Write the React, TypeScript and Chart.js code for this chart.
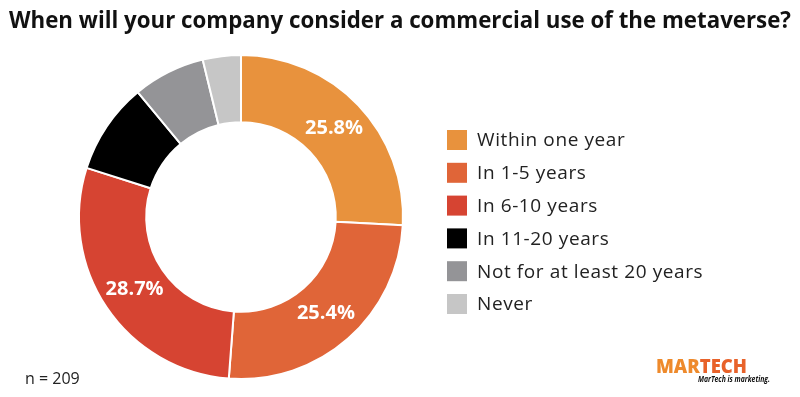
import React, { useEffect, useRef } from "react";
import { Chart, registerables } from "chart.js";

Chart.register(...registerables);

const titleText = "When will your company consider a commercial use of the metaverse?";
const categories = [
  "Within one year",
  "In 1-5 years",
  "In 6-10 years",
  "In 11-20 years",
  "Not for at least 20 years",
  "Never",
];
const values = [25.8, 25.4, 28.7, 9.1, 7.2, 3.8];
const shownLabels = ["25.8%", "25.4%", "28.7%", "", "", ""];
const colors = ["#E8923D", "#E06538", "#D64432", "#000000", "#949497", "#C6C6C6"];
const sampleNote = "n = 209";

const overlayPlugin = {
  id: "overlay",
  afterDraw(chart: any) {
    const ctx = chart.ctx as any;
    ctx.save();
    // title
    ctx.fillStyle = "#111";
    ctx.font = "bold 23px 'Open Sans', sans-serif";
    ctx.textAlign = "center";
    ctx.textBaseline = "alphabetic";
    ctx.fillText(titleText, 400, 28, 782);

    // slice labels
    const meta = chart.getDatasetMeta(0);
    ctx.font = "bold 20px 'Open Sans', sans-serif";
    ctx.fillStyle = "#ffffff";
    ctx.textAlign = "center";
    ctx.textBaseline = "middle";
    meta.data.forEach((arc: any, i: number) => {
      const t = shownLabels[i];
      if (!t) return;
      const p = arc.getCenterPoint();
      ctx.fillText(t, p.x, p.y);
    });

    // legend
    const lx = 447;
    const ly0 = 140;
    const step = 32.8;
    ctx.font = "19px 'Open Sans', sans-serif";
    ctx.textAlign = "left";
    ctx.textBaseline = "middle";
    ctx.letterSpacing = "0.6px";
    categories.forEach((c, i) => {
      const y = ly0 + i * step;
      ctx.fillStyle = colors[i];
      ctx.fillRect(lx, y - 10, 20, 20);
      ctx.fillStyle = "#222";
      ctx.fillText(c, lx + 30, y + 1);
    });
    ctx.letterSpacing = "0px";

    // n note
    ctx.font = "16px 'Open Sans', sans-serif";
    ctx.fillStyle = "#222";
    ctx.textBaseline = "alphabetic";
    ctx.fillText(sampleNote, 25, 384);

    // logo
    ctx.font = "800 20px 'Open Sans', sans-serif";
    ctx.textBaseline = "alphabetic";
    const full = ctx.measureText("MARTECH").width;
    const sx = 91 / full;
    ctx.save();
    ctx.translate(656, 373);
    ctx.scale(sx, 1);
    ctx.fillStyle = "#EE8A2C";
    ctx.fillText("MAR", 0, 0);
    const w = ctx.measureText("MAR").width;
    ctx.fillStyle = "#E8622A";
    ctx.fillText("TECH", w, 0);
    ctx.restore();
    ctx.font = "italic bold 9px 'Open Sans', sans-serif";
    ctx.fillStyle = "#111";
    ctx.fillText("MarTech is marketing.", 698, 382, 72);
    ctx.restore();
  },
};

export default function App() {
  const ref = useRef<HTMLCanvasElement | null>(null);
  useEffect(() => {
    document.body.style.margin = "0";
    const canvas = ref.current;
    if (!canvas) return;
    const chart = new Chart(canvas, {
      type: "doughnut",
      data: {
        labels: categories,
        datasets: [
          {
            data: values,
            backgroundColor: colors,
            borderColor: "#ffffff",
            borderWidth: 2,
            hoverOffset: 0,
          },
        ],
      },
      options: {
        responsive: false,
        animation: false,
        cutout: "58.5%",
        layout: { padding: { left: 78, right: 396, top: 54, bottom: 17 } },
        plugins: {
          legend: { display: false },
          title: { display: false },
          tooltip: { enabled: false },
        },
      },
      plugins: [overlayPlugin],
    });
    return () => chart.destroy();
  }, []);
  return (
    <div style={{ width: 800, height: 397, background: "#fff" }}>
      <canvas ref={ref} width={800} height={397} style={{ display: "block" }} />
    </div>
  );
}
